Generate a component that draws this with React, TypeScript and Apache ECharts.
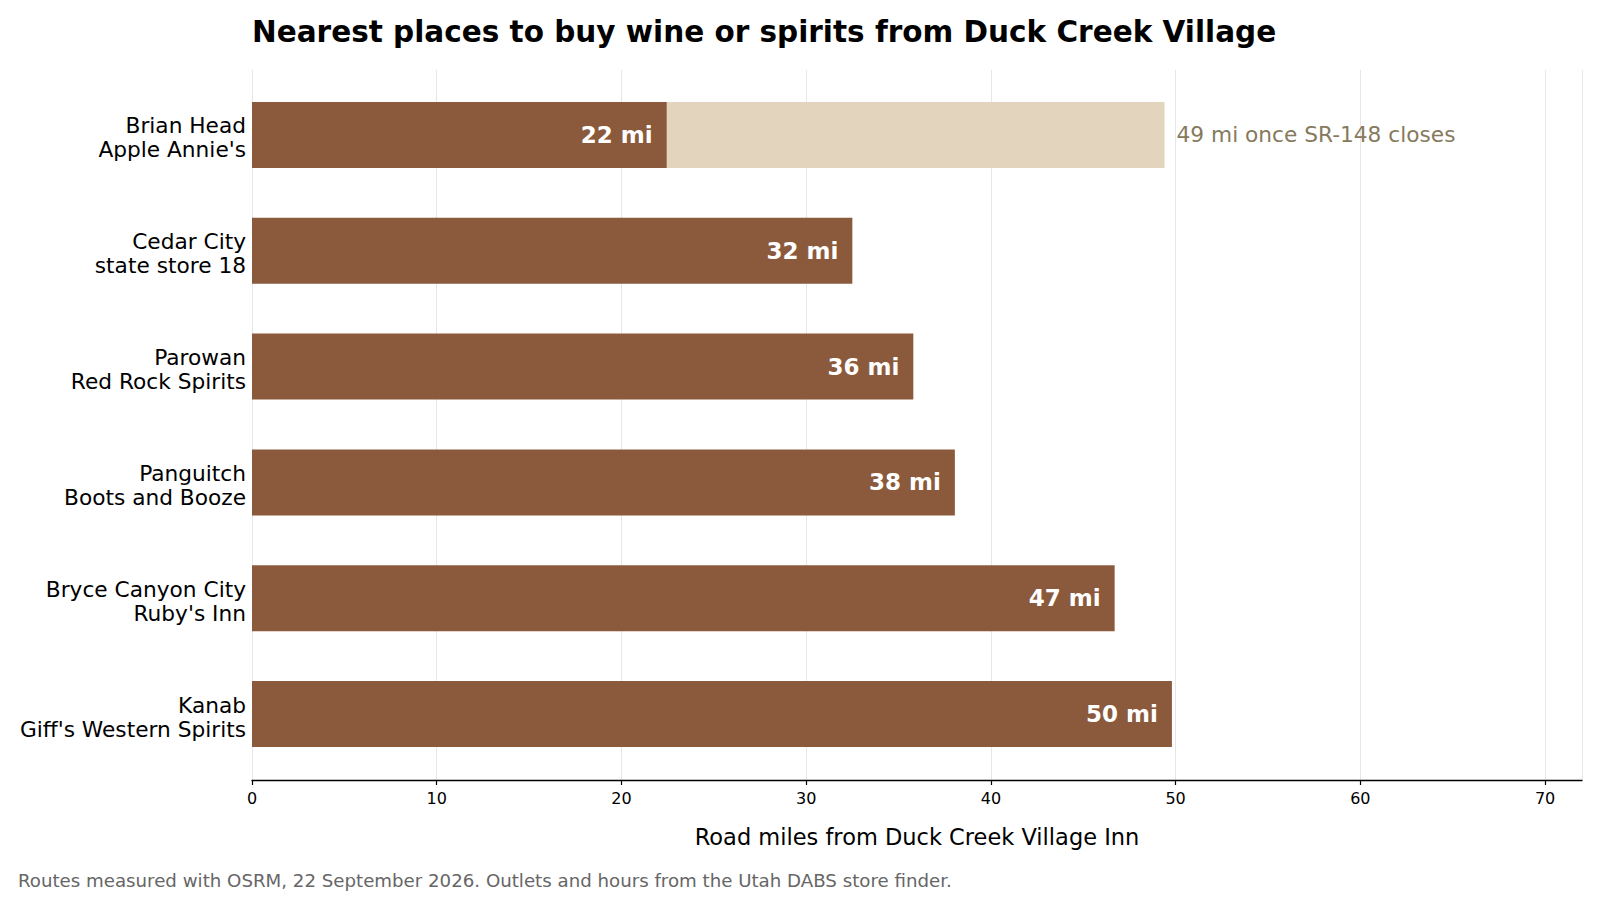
import React, { useEffect, useRef } from "react";
import * as echarts from "echarts";

const categories = [
  "Brian Head\nApple Annie's",
  "Cedar City\nstate store 18",
  "Parowan\nRed Rock Spirits",
  "Panguitch\nBoots and Booze",
  "Bryce Canyon City\nRuby's Inn",
  "Kanab\nGiff's Western Spirits",
];
const miles = [22.45, 32.5, 35.8, 38.05, 46.7, 49.8];
const milesLabels = ["22 mi", "32 mi", "36 mi", "38 mi", "47 mi", "50 mi"];
const closureMiles = [49.4, null, null, null, null, null];
const closureLabels = ["49 mi once SR-148 closes", "", "", "", "", ""];
const xTicks = [0, 10, 20, 30, 40, 50, 60, 70];

const FONT = "DejaVu Sans";

export default function App() {
  const ref = useRef<HTMLDivElement>(null);
  useEffect(() => {
    document.body.style.margin = "0";
    const chart = echarts.init(ref.current!, null, { renderer: "svg" });
    chart.setOption({
      animation: false,
      backgroundColor: "#ffffff",
      textStyle: { fontFamily: FONT },
      grid: [
        { left: 252, right: 18, top: 77, bottom: 128 },
        { left: 252, right: 18, top: 70, bottom: 120 },
      ],
      xAxis: [
        {
          gridIndex: 0,
          type: "value",
          min: 0,
          max: 72,
          interval: 10,
          show: false,
        },
        {
          gridIndex: 1,
          type: "value",
          min: 0,
          max: 72,
          interval: 10,
          axisLine: { show: true, lineStyle: { color: "#000", width: 1.3 } },
          axisTick: { show: true, length: 5, lineStyle: { color: "#000", width: 1.2 } },
          axisLabel: {
            color: "#000",
            fontSize: 16,
            fontFamily: FONT,
            margin: 10,
            showMaxLabel: false,
            formatter: (v: number) => (xTicks.includes(v) ? String(v) : ""),
          },
          splitLine: { show: true, lineStyle: { color: "#e6e6e6", width: 1 } },
          name: "Road miles from Duck Creek Village Inn",
          nameLocation: "middle",
          nameGap: 45,
          nameTextStyle: { color: "#000", fontSize: 22.5, fontFamily: FONT },
        },
      ],
      yAxis: [
        {
          gridIndex: 0,
          type: "category",
          inverse: true,
          data: categories,
          axisLine: { show: false },
          axisTick: { show: false },
          axisLabel: {
            color: "#000",
            fontSize: 21.7,
            fontFamily: FONT,
            align: "right",
            margin: 6,
            formatter: (v: string) => "{a|" + v.replace("\n", "}\n{a|") + "}",
            rich: {
              a: {
                fontSize: 21.7,
                fontFamily: FONT,
                color: "#000",
                lineHeight: 24,
                align: "right",
              },
            },
            padding: [6, 0, 0, 0],
          },
        },
        {
          gridIndex: 1,
          type: "value",
          show: false,
        },
      ],
      series: [
        {
          type: "bar",
          xAxisIndex: 0,
          yAxisIndex: 0,
          data: closureMiles,
          barWidth: "57%",
          itemStyle: { color: "#e3d5bd" },
          z: 1,
          label: {
            show: true,
            position: "right",
            distance: 12,
            color: "#857a5e",
            fontSize: 21.7,
            fontFamily: FONT,
            formatter: (p: any) => closureLabels[p.dataIndex],
          },
        },
        {
          type: "bar",
          xAxisIndex: 0,
          yAxisIndex: 0,
          data: miles,
          barWidth: "57%",
          barGap: "-100%",
          itemStyle: { color: "#8b5a3c" },
          z: 2,
          label: {
            show: true,
            position: "insideRight",
            distance: 14,
            color: "#ffffff",
            fontSize: 23,
            fontWeight: "bold",
            fontFamily: FONT,
            formatter: (p: any) => milesLabels[p.dataIndex],
          },
        },
      ],
      graphic: [
        {
          type: "text",
          x: 252,
          y: 31.5,
          style: {
            text: "Nearest places to buy wine or spirits from Duck Creek Village",
            fontSize: 29.5,
            fontWeight: "bold",
            fontFamily: FONT,
            fill: "#000",
            verticalAlign: "middle",
          },
        },
        {
          type: "text",
          x: 18,
          y: 880,
          style: {
            text: "Routes measured with OSRM, 22 September 2026. Outlets and hours from the Utah DABS store finder.",
            fontSize: 18.2,
            fontFamily: FONT,
            fill: "#666666",
            verticalAlign: "middle",
          },
        },
      ],
    });
    return () => chart.dispose();
  }, []);
  return <div ref={ref} style={{ width: 1600, height: 900 }} />;
}
